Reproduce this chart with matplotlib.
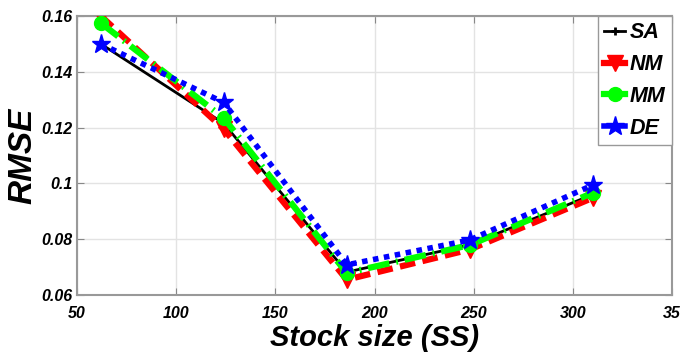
import matplotlib.pyplot as plt

# stock size values and RMSE per method
ss = [62, 124, 186, 248, 310]
sa = [0.150, 0.1215, 0.0682, 0.0780, 0.0960]
nm = [0.160, 0.1195, 0.0655, 0.0763, 0.0948]
mm = [0.1575, 0.1234, 0.0679, 0.0779, 0.0966]
de = [0.150, 0.1290, 0.0708, 0.0797, 0.0994]

xticks = [50, 100, 150, 200, 250, 300, 350]
xticklabels = ['50', '100', '150', '200', '250', '300', '35']
yticks = [0.06, 0.08, 0.1, 0.12, 0.14, 0.16]
yticklabels = ['0.06', '0.08', '0.1', '0.12', '0.14', '0.16']

plt.rcParams['font.family'] = ['Liberation Sans', 'DejaVu Sans']
plt.rcParams['font.weight'] = 'bold'
plt.rcParams['font.style'] = 'italic'

fig = plt.figure(figsize=(6.93, 3.57), dpi=100)
ax = fig.add_axes([77 / 693, 62 / 357, 595 / 693, 279 / 357])

ax.plot(ss, sa, color='black', lw=2, marker='+', ms=6, mew=2, label='SA', zorder=3)
ax.plot(ss, nm, color='red', lw=4.5, ls=(0, (2.5, 1.2)), marker='v', ms=11, label='NM', zorder=4)
ax.plot(ss, mm, color='#00ff00', lw=4.5, ls=(0, (3.5, 1.1, 0.3, 1.1)), marker='o', ms=10, label='MM', zorder=5)
ax.plot(ss, de, color='blue', lw=4, ls=(0, (1, 1)), marker='*', ms=14, label='DE', zorder=6)

ax.set_xlim(50, 350)
ax.set_ylim(0.06, 0.16)
ax.set_xticks(xticks)
ax.set_xticklabels(xticklabels)
ax.set_yticks(yticks)
ax.set_yticklabels(yticklabels)
ax.tick_params(direction='in', length=5, color='#888888', labelsize=11.5, top=True, right=True)
ax.tick_params(axis='x', pad=8)
for lab in ax.get_xticklabels() + ax.get_yticklabels():
    lab.set_fontweight('bold')
    lab.set_fontstyle('italic')
ax.grid(True, color='#e3e3e3', lw=1)
for sp in ax.spines.values():
    sp.set_color('#999999')
    sp.set_linewidth(1.5)

ax.set_xlabel('Stock size (SS)', fontsize=21, fontweight='bold', style='italic', labelpad=2)
ax.set_ylabel('RMSE', fontsize=24, fontweight='bold', style='italic', labelpad=2)

leg = ax.legend(loc='upper right', fontsize=15.5, handlelength=1.0, handletextpad=0.2,
                borderaxespad=0, fancybox=False, framealpha=1, borderpad=0.3, labelspacing=0.5)
leg.get_frame().set_edgecolor('#999999')
for t in leg.get_texts():
    t.set_fontweight('bold')
    t.set_fontstyle('italic')
for h in leg.legend_handles:
    h.set_linestyle('-')

fig.savefig('out.png', dpi=100)
